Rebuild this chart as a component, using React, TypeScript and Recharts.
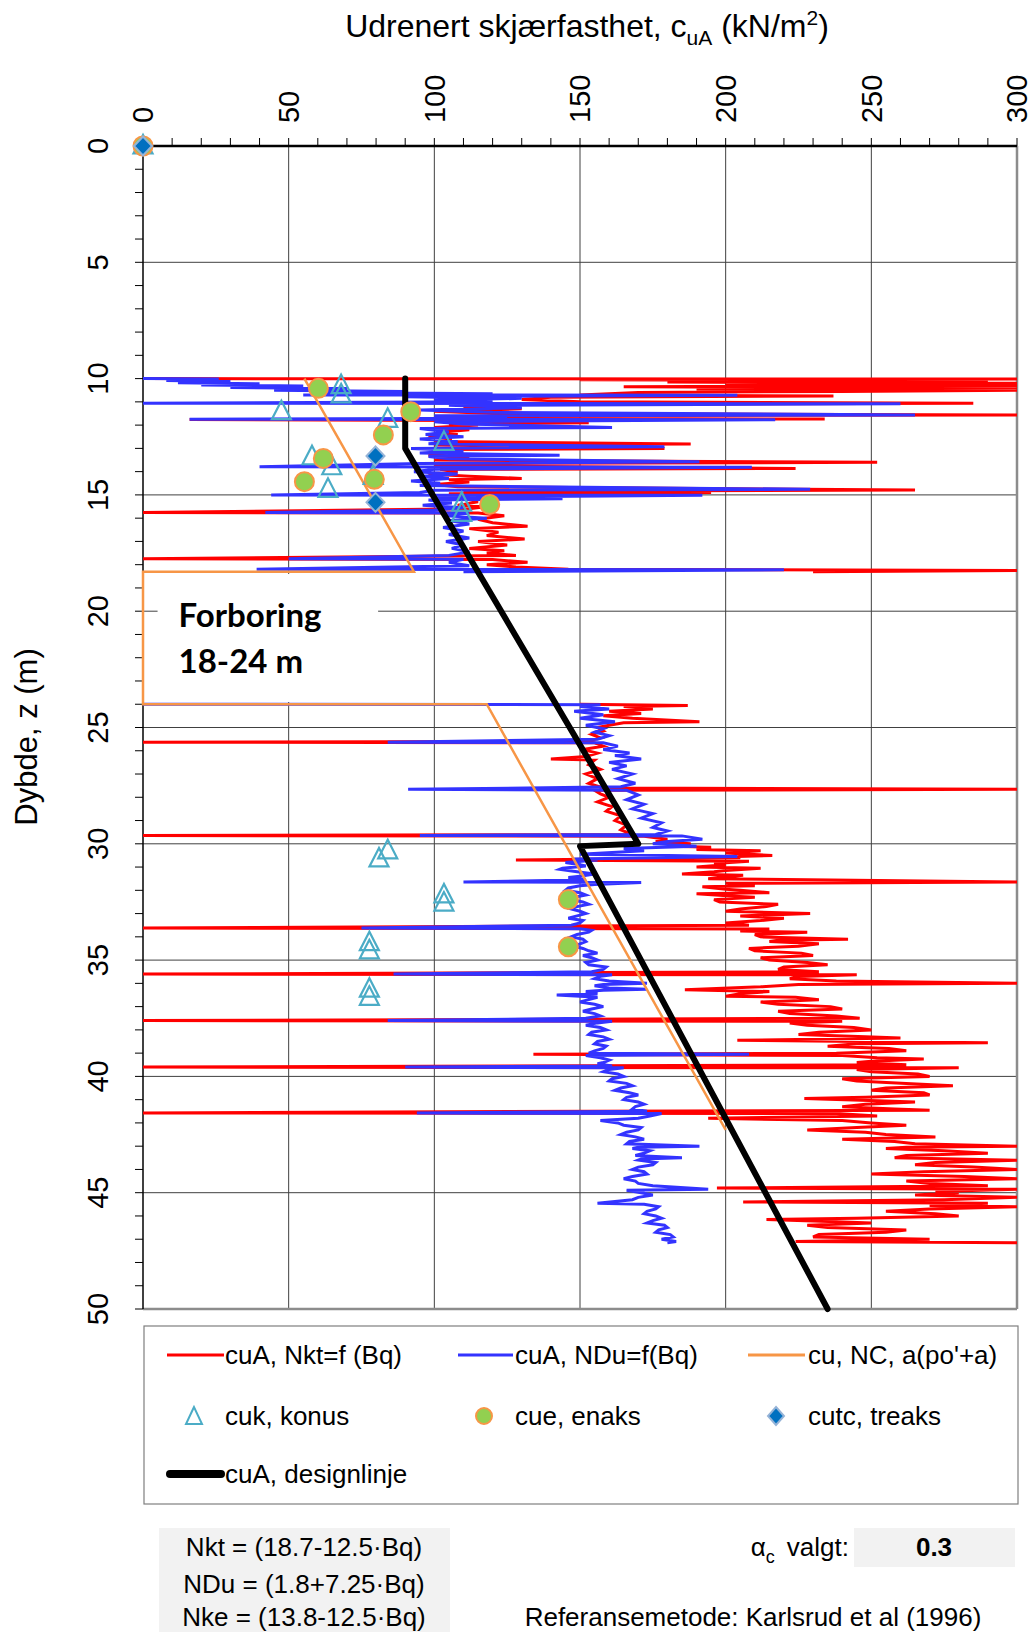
import React from 'react';
import { ScatterChart, Scatter, XAxis, YAxis, CartesianGrid, ReferenceLine, ReferenceArea } from 'recharts';

// ---------- axis ticks ----------
const xTicks = [0, 10, 20, 30, 40, 50, 60, 70, 80, 90, 100, 110, 120, 130, 140, 150, 160, 170, 180, 190, 200, 210, 220, 230, 240, 250, 260, 270, 280, 290, 300];
const xLabels = [0, 50, 100, 150, 200, 250, 300];
const yTicks = [0, 1, 2, 3, 4, 5, 6, 7, 8, 9, 10, 11, 12, 13, 14, 15, 16, 17, 18, 19, 20, 21, 22, 23, 24, 25, 26, 27, 28, 29, 30, 31, 32, 33, 34, 35, 36, 37, 38, 39, 40, 41, 42, 43, 44, 45, 46, 47, 48, 49, 50];
const yLabels = [0, 5, 10, 15, 20, 25, 30, 35, 40, 45, 50];
const xGrid = [50, 100, 150, 200, 250];
const yGrid = [5, 10, 15, 20, 25, 30, 35, 40, 45];

// ---------- series: [depth z (m), cuA (kN/m2)] ----------
const redUpper = [
  [10.0, 0], [10.02, 300], [10.05, 150], [10.1, 290], [10.15, 180], [10.2, 300], [10.25, 200], [10.3, 300], [10.35, 165], [10.4, 300],
  [10.45, 190], [10.5, 300], [10.55, 240], [10.6, 170], [10.7, 150], [10.75, 237], [10.8, 140], [10.9, 130], [11.0, 150], [11.06, 285],
  [11.1, 120], [11.2, 110], [11.3, 130], [11.4, 100], [11.5, 120], [11.56, 300], [11.6, 130], [11.7, 110], [11.74, 234], [11.76, 16],
  [11.8, 110], [11.9, 153], [11.95, 105], [12.0, 115], [12.1, 100], [12.2, 112], [12.3, 103], [12.4, 108], [12.5, 98], [12.6, 106],
  [12.7, 100], [12.81, 188], [12.85, 100], [13.0, 179], [13.05, 100], [13.15, 108], [13.3, 98], [13.4, 112], [13.5, 100], [13.6, 252],
  [13.65, 105], [13.75, 100], [13.86, 224], [13.9, 102], [14.0, 108], [14.1, 98], [14.2, 112], [14.29, 130], [14.35, 105], [14.45, 112],
  [14.55, 100], [14.65, 108], [14.79, 265], [14.85, 110], [14.9, 195], [14.95, 105], [15.05, 112], [15.15, 110], [15.3, 115], [15.45, 108],
  [15.5, 118], [15.6, 112], [15.76, 0], [15.78, 115], [15.9, 124], [16.05, 115], [16.2, 120], [16.35, 132], [16.45, 112], [16.6, 122],
  [16.75, 118], [16.9, 131], [17.0, 115], [17.15, 125], [17.3, 112], [17.4, 124], [17.5, 118], [17.6, 128], [17.75, 0], [17.78, 120],
  [17.9, 132], [18.0, 118], [18.1, 128], [18.2, 146], [18.25, 300], [18.3, 230],
];

const redLower = [
  [24.0, 150], [24.05, 187], [24.1, 165], [24.2, 175], [24.3, 160], [24.4, 171], [24.5, 158], [24.6, 168], [24.75, 191], [24.8, 165],
  [24.9, 160], [25.0, 156], [25.15, 158], [25.3, 154], [25.45, 157], [25.6, 152], [25.63, 0], [25.66, 155], [25.8, 158], [25.95, 151],
  [26.1, 156], [26.25, 152], [26.35, 140], [26.4, 155], [26.6, 153], [26.8, 157], [27.0, 152], [27.2, 156], [27.4, 153], [27.6, 158],
  [27.66, 300], [27.7, 155], [27.85, 157], [28.0, 160], [28.2, 156], [28.4, 161], [28.6, 159], [28.8, 164], [29.0, 162], [29.2, 166],
  [29.4, 164], [29.6, 168], [29.64, 0], [29.68, 172], [29.8, 180], [29.9, 176], [30.0, 188], [30.1, 182], [30.15, 195], [30.25, 190],
  [30.3, 212], [30.4, 200], [30.5, 216], [30.55, 204], [30.6, 205], [30.7, 128], [30.75, 208], [30.85, 196], [30.9, 200], [31.0, 190],
  [31.05, 212], [31.15, 200], [31.2, 196], [31.3, 185], [31.35, 206], [31.45, 198], [31.5, 194], [31.64, 300], [31.7, 200], [31.8, 210],
  [31.85, 192], [31.95, 200], [32.0, 205], [32.1, 215], [32.15, 190], [32.25, 203], [32.3, 210], [32.4, 196], [32.5, 198], [32.6, 218],
  [32.7, 214], [32.8, 205], [32.9, 200], [33.0, 229], [33.1, 205], [33.2, 220], [33.3, 212], [33.4, 200], [33.5, 208],
  [33.62, 0], [33.66, 215], [33.75, 205], [33.8, 228], [33.9, 210], [34.0, 212], [34.1, 242], [34.15, 218], [34.2, 215], [34.3, 232],
  [34.4, 225], [34.5, 208], [34.6, 210], [34.7, 226], [34.8, 230], [34.9, 212], [35.0, 215], [35.1, 228], [35.2, 235], [35.3, 220],
  [35.4, 218], [35.5, 232], [35.6, 0], [35.63, 245], [35.7, 225], [35.8, 222], [35.9, 238], [36.0, 300], [36.05, 225], [36.15, 212],
  [36.27, 186], [36.35, 215], [36.45, 205], [36.55, 200], [36.6, 224], [36.7, 232], [36.8, 212], [36.9, 218], [37.0, 236], [37.1, 240],
  [37.2, 218], [37.3, 222], [37.4, 238], [37.5, 246], [37.6, 0], [37.63, 240], [37.7, 222], [37.8, 228], [37.9, 244], [38.0, 250],
  [38.1, 232], [38.2, 225], [38.3, 248], [38.35, 260], [38.45, 204], [38.55, 290], [38.6, 245], [38.7, 235], [38.8, 256], [38.9, 262],
  [39.0, 238], [39.05, 134], [39.1, 240], [39.2, 252], [39.25, 268], [39.35, 250], [39.4, 245], [39.5, 262], [39.6, 0], [39.63, 280],
  [39.7, 245], [39.8, 250], [39.9, 266], [40.0, 270], [40.1, 240], [40.2, 245], [40.3, 262], [40.4, 278], [40.5, 255], [40.6, 250],
  [40.7, 268], [40.8, 270], [40.9, 248], [40.95, 227], [41.05, 252], [41.1, 265], [41.2, 248], [41.3, 240], [41.4, 258], [41.45, 270],
  [41.57, 0], [41.6, 238], [41.7, 252], [41.8, 194], [41.9, 240], [42.0, 250], [42.1, 262], [42.2, 245], [42.3, 228], [42.4, 248],
  [42.5, 255], [42.6, 272], [42.7, 240], [42.8, 258], [42.9, 265], [43.0, 300], [43.05, 262], [43.1, 255], [43.2, 275], [43.3, 290],
  [43.4, 262], [43.5, 258], [43.6, 300], [43.7, 272], [43.8, 265], [43.9, 285], [44.0, 300], [44.1, 268], [44.2, 250], [44.3, 282],
  [44.4, 300], [44.5, 262], [44.6, 270], [44.7, 290], [44.8, 197], [44.85, 300], [44.95, 272], [45.0, 280], [45.1, 265], [45.2, 300],
  [45.3, 275], [45.4, 206], [45.45, 290], [45.55, 270], [45.6, 300], [45.7, 270], [45.8, 255], [45.9, 272], [46.0, 280], [46.1, 245],
  [46.15, 214], [46.25, 238], [46.3, 250], [46.4, 228], [46.5, 235], [46.6, 262], [46.7, 255], [46.8, 232], [46.9, 230], [47.0, 270],
  [47.1, 224], [47.15, 300],
];

const blueUpper = [
  [10.0, 0], [10.02, 26], [10.08, 8], [10.12, 30], [10.18, 12], [10.22, 40], [10.27, 20], [10.32, 55], [10.38, 30], [10.43, 70],
  [10.5, 45], [10.55, 90], [10.6, 60], [10.65, 120], [10.7, 55], [10.72, 204], [10.78, 90], [10.85, 130], [10.92, 100], [11.0, 120],
  [11.06, 0], [11.08, 260], [11.15, 105], [11.25, 130], [11.35, 95], [11.45, 120], [11.56, 265], [11.6, 100], [11.7, 125], [11.75, 16],
  [11.77, 217], [11.85, 100], [11.95, 110], [12.1, 161], [12.15, 95], [12.3, 105], [12.4, 97], [12.5, 110], [12.6, 95], [12.7, 108],
  [12.8, 98], [12.93, 179], [13.0, 92], [13.1, 110], [13.2, 95], [13.3, 143], [13.35, 98], [13.45, 105], [13.57, 191], [13.65, 95],
  [13.79, 40], [13.81, 209], [13.9, 100], [14.0, 93], [14.1, 108], [14.2, 96], [14.3, 105], [14.4, 92], [14.5, 102], [14.6, 95],
  [14.76, 229], [14.8, 100], [14.9, 95], [15.0, 44], [15.02, 192], [15.1, 100], [15.17, 144], [15.22, 98], [15.35, 106], [15.45, 96],
  [15.55, 110], [15.65, 100], [15.76, 42], [15.78, 112], [15.9, 104], [16.0, 118], [16.1, 105], [16.25, 112], [16.4, 103], [16.55, 110],
  [16.7, 105], [16.85, 112], [17.0, 104], [17.15, 110], [17.3, 106], [17.45, 112], [17.6, 105], [17.75, 50], [17.77, 110], [17.9, 105],
  [18.05, 112], [18.2, 39], [18.22, 220], [18.3, 110],
];

const blueLower = [
  [24.0, 0], [24.02, 157], [24.1, 150], [24.2, 160], [24.3, 148], [24.45, 158], [24.6, 150], [24.75, 162], [24.9, 152], [25.05, 158],
  [25.2, 155], [25.35, 160], [25.5, 156], [25.63, 84], [25.66, 158], [25.8, 163], [25.95, 158], [26.1, 167], [26.2, 162], [26.35, 171],
  [26.5, 160], [26.65, 166], [26.8, 161], [27.0, 168], [27.2, 163], [27.4, 169], [27.55, 164], [27.66, 91], [27.7, 166], [27.9, 170],
  [28.1, 166], [28.3, 172], [28.5, 168], [28.7, 175], [28.9, 171], [29.1, 178], [29.3, 175], [29.45, 180], [29.6, 176], [29.64, 95],
  [29.66, 185], [29.8, 192], [29.9, 180], [30.0, 175], [30.1, 190], [30.2, 165], [30.3, 172], [30.45, 150], [30.55, 204], [30.65, 148],
  [30.7, 156], [30.8, 145], [30.9, 150], [30.95, 152], [31.05, 144], [31.1, 143], [31.2, 149], [31.3, 155], [31.4, 150], [31.45, 146],
  [31.55, 152], [31.64, 110], [31.66, 171], [31.75, 155], [31.8, 150], [31.9, 146], [32.0, 145], [32.1, 150], [32.2, 152], [32.3, 148],
  [32.4, 147], [32.5, 151], [32.6, 153], [32.7, 149], [32.8, 147], [32.9, 150], [33.0, 152], [33.1, 149], [33.2, 146], [33.3, 151],
  [33.4, 150], [33.5, 147], [33.62, 75], [33.65, 150], [33.72, 154], [33.8, 153], [33.9, 149], [34.0, 147], [34.1, 151], [34.2, 152],
  [34.3, 150], [34.4, 148], [34.5, 151], [34.6, 153], [34.7, 156], [34.8, 151], [34.9, 154], [35.0, 156], [35.1, 152], [35.2, 153],
  [35.3, 159], [35.4, 158], [35.5, 154], [35.6, 86], [35.63, 161], [35.7, 157], [35.8, 155], [35.9, 160], [36.0, 173], [36.05, 158],
  [36.1, 155], [36.2, 160], [36.25, 173], [36.3, 158], [36.35, 152], [36.45, 156], [36.5, 142], [36.55, 150], [36.6, 156], [36.7, 153],
  [36.8, 150], [36.9, 155], [37.0, 158], [37.1, 154], [37.2, 151], [37.3, 155], [37.4, 157], [37.5, 152], [37.6, 84], [37.63, 161],
  [37.7, 156], [37.8, 152], [37.9, 157], [38.0, 159], [38.1, 154], [38.2, 153], [38.3, 158], [38.4, 160], [38.5, 156], [38.6, 155],
  [38.7, 159], [38.8, 158], [38.9, 155], [39.0, 153], [39.05, 208], [39.1, 152], [39.2, 157], [39.3, 160], [39.4, 158], [39.45, 156],
  [39.55, 161], [39.6, 90], [39.63, 165], [39.7, 160], [39.8, 158], [39.9, 163], [40.0, 165], [40.1, 161], [40.2, 160], [40.3, 166],
  [40.4, 168], [40.5, 164], [40.6, 162], [40.7, 167], [40.8, 170], [40.9, 166], [41.0, 165], [41.1, 170], [41.2, 172], [41.3, 169],
  [41.4, 168], [41.5, 173], [41.57, 94], [41.6, 178], [41.7, 174], [41.8, 170], [41.9, 157], [42.0, 163], [42.1, 165], [42.2, 171],
  [42.3, 170], [42.4, 166], [42.5, 164], [42.6, 169], [42.7, 172], [42.8, 167], [42.9, 166], [43.0, 191], [43.05, 170], [43.1, 168],
  [43.2, 174], [43.3, 172], [43.4, 169], [43.5, 185], [43.55, 171], [43.6, 170], [43.7, 176], [43.8, 175], [43.9, 170], [44.0, 168],
  [44.1, 172], [44.2, 173], [44.3, 168], [44.4, 165], [44.5, 169], [44.6, 170], [44.7, 175], [44.85, 194], [44.9, 166], [45.0, 171],
  [45.1, 175], [45.2, 170], [45.3, 168], [45.45, 156], [45.5, 172], [45.6, 177], [45.7, 176], [45.8, 173], [45.9, 172], [46.0, 176],
  [46.1, 178], [46.2, 175], [46.3, 173], [46.4, 179], [46.5, 180], [46.6, 177], [46.7, 176], [46.8, 181], [46.9, 182], [47.0, 178],
  [47.1, 183], [47.15, 180],
];

const orangeNC = [
  [10.0, 55.4], [18.3, 93], [18.3, 0], [24.0, 0], [24.0, 118], [42.3, 200],
];

const designLine = [
  [10.0, 90], [13.0, 90], [30.0, 170], [30.1, 150], [50.0, 235],
];

const konus = [
  [0, 0], [10.3, 68], [10.7, 68], [11.42, 47.5], [11.75, 84], [12.74, 103.3], [13.36, 58], [13.79, 64.8], [14.76, 63.5], [14.2, 79],
  [15.36, 109.4], [15.79, 109.4], [30.3, 84], [30.65, 81], [32.2, 103.3], [32.55, 103.3], [34.25, 77.7], [34.6, 77.7], [36.25, 77.7], [36.6, 77.7],
];

const enaks = [
  [0, 0], [10.42, 60.2], [11.42, 91.9], [12.42, 82.5], [13.43, 61.9], [14.43, 55.4], [14.33, 79.4], [15.41, 119], [32.4, 146], [34.43, 146],
];

const treaks = [
  [0, 0], [13.33, 79.8], [15.32, 79.8],
];

const toPts = (arr: number[][]) => arr.map(([z, x]) => ({ x, z }));

// ---------- layout ----------
const FONT = '"Liberation Sans", Arial, Helvetica, sans-serif';
const PLOT_TOP = 146;

const Empty = () => <g />;

const TriShape = (p: any) => {
  const { cx, cy } = p;
  if (cx == null || cy == null) return <g />;
  return (
    <polygon
      points={`${cx},${cy - 11} ${cx - 9.5},${cy + 7.5} ${cx + 9.5},${cy + 7.5}`}
      fill="none"
      stroke="#4BACC6"
      strokeWidth={2.2}
    />
  );
};

const CircShape = (p: any) => {
  const { cx, cy } = p;
  if (cx == null || cy == null) return <g />;
  return <circle cx={cx} cy={cy} r={9.5} fill="#92D050" stroke="#F79646" strokeWidth={2} />;
};

const DiaShape = (p: any) => {
  const { cx, cy } = p;
  if (cx == null || cy == null) return <g />;
  return (
    <polygon
      points={`${cx},${cy - 9.5} ${cx + 9},${cy} ${cx},${cy + 9.5} ${cx - 9},${cy}`}
      fill="#0070C0"
      stroke="#95B3D7"
      strokeWidth={2}
    />
  );
};

const XTick = (p: any) => {
  const { x, payload } = p;
  if (!xLabels.includes(payload.value)) return <g />;
  const y = PLOT_TOP - 23;
  return (
    <text
      x={x}
      y={y}
      transform={`rotate(-90 ${x} ${y})`}
      textAnchor="start"
      dy="0.36em"
      fontSize={29}
      fontFamily={FONT}
      fill="#000"
    >
      {payload.value}
    </text>
  );
};

const YTick = (p: any) => {
  const { y, payload } = p;
  if (!yLabels.includes(payload.value)) return <g />;
  const x = 108;
  return (
    <text
      x={x}
      y={y}
      transform={`rotate(-90 ${x} ${y})`}
      textAnchor="middle"
      fontSize={29}
      fontFamily={FONT}
      fill="#000"
    >
      {payload.value}
    </text>
  );
};

const ForboringLabel = (p: any) => {
  const vb = p.viewBox || {};
  const x = (vb.x || 0) + 21;
  const y = vb.y || 0;
  return (
    <text fontFamily="Lato, 'Open Sans', sans-serif" fontWeight="bold" fontSize={33} fill="#000">
      <tspan x={x} y={y + 53}>Forboring</tspan>
      <tspan x={x} y={y + 99}>18-24 m</tspan>
    </text>
  );
};

export default function App() {
  return (
    <div style={{ position: 'absolute', left: 0, top: 0, width: 1033, height: 1632, background: '#fff', overflow: 'hidden' }}>
      <div style={{ position: 'absolute', left: 0, top: 0 }}>
        <ScatterChart width={1033} height={1345} margin={{ top: 86, right: 16, bottom: 36, left: 83 }}>
          <CartesianGrid
            stroke="#404040"
            strokeWidth={1}
            verticalValues={xGrid}
            horizontalValues={yGrid}
          />
          <XAxis
            type="number"
            dataKey="x"
            orientation="top"
            domain={[0, 300]}
            ticks={xTicks}
            interval={0}
            height={60}
            tickSize={8}
            tickLine={{ stroke: '#000', strokeWidth: 1 }}
            axisLine={{ stroke: '#000', strokeWidth: 2.5 }}
            tick={<XTick />}
          />
          <YAxis
            type="number"
            dataKey="z"
            domain={[0, 50]}
            reversed
            ticks={yTicks}
            interval={0}
            width={60}
            tickSize={8}
            tickLine={{ stroke: '#000', strokeWidth: 1 }}
            axisLine={{ stroke: '#000', strokeWidth: 1.5 }}
            tick={<YTick />}
          />
          <ReferenceLine x={300} stroke="#8c8c8c" strokeWidth={2.5} />
          <ReferenceLine y={50} stroke="#8c8c8c" strokeWidth={2.5} />
          <ReferenceArea
            x1={5}
            x2={80.7}
            y1={18.4}
            y2={23.9}
            fill="#ffffff"
            fillOpacity={1}
            stroke="none"
            label={<ForboringLabel />}
          />
          <Scatter data={toPts(redUpper)} line={{ stroke: '#FF0000', strokeWidth: 3 }} shape={<Empty />} isAnimationActive={false} legendType="none" />
          <Scatter data={toPts(redLower)} line={{ stroke: '#FF0000', strokeWidth: 3 }} shape={<Empty />} isAnimationActive={false} legendType="none" />
          <Scatter data={toPts(blueUpper)} line={{ stroke: '#3333FF', strokeWidth: 3 }} shape={<Empty />} isAnimationActive={false} legendType="none" />
          <Scatter data={toPts(blueLower)} line={{ stroke: '#3333FF', strokeWidth: 3 }} shape={<Empty />} isAnimationActive={false} legendType="none" />
          <Scatter data={toPts(orangeNC)} line={{ stroke: '#F79646', strokeWidth: 2.5 }} shape={<Empty />} isAnimationActive={false} legendType="none" />
          <Scatter data={toPts(designLine)} line={{ stroke: '#000000', strokeWidth: 6, strokeLinecap: 'round', strokeLinejoin: 'round' }} shape={<Empty />} isAnimationActive={false} legendType="none" />
          <Scatter data={toPts(konus)} shape={<TriShape />} isAnimationActive={false} legendType="none" />
          <Scatter data={toPts(enaks)} shape={<CircShape />} isAnimationActive={false} legendType="none" />
          <Scatter data={toPts(treaks)} shape={<DiaShape />} isAnimationActive={false} legendType="none" />
        </ScatterChart>
      </div>

      <svg width={1033} height={1632} style={{ position: 'absolute', left: 0, top: 0, pointerEvents: 'none' }} fontFamily={FONT}>
        {/* title */}
        <text x={587} y={37} textAnchor="middle" fontSize={32} fill="#000">
          Udrenert skjærfasthet, c
          <tspan dy={8} fontSize={21}>uA</tspan>
          <tspan dy={-8}> (kN/m</tspan>
          <tspan dy={-12} fontSize={21}>2</tspan>
          <tspan dy={12}>)</tspan>
        </text>
        {/* y axis title */}
        <text x={26} y={737} transform="rotate(-90 26 737)" textAnchor="middle" dy="0.35em" fontSize={31} fill="#000">
          Dybde, z (m)
        </text>

        {/* legend */}
        <rect x={144} y={1326} width={874} height={178} fill="#fff" stroke="#7f7f7f" strokeWidth={1.2} />
        <line x1={167} x2={224} y1={1355} y2={1355} stroke="#FF0000" strokeWidth={3} />
        <text x={225} y={1364} fontSize={26} fill="#000">cuA, Nkt=f (Bq)</text>
        <line x1={458} x2={513} y1={1355} y2={1355} stroke="#3333FF" strokeWidth={3} />
        <text x={515} y={1364} fontSize={26} fill="#000">cuA, NDu=f(Bq)</text>
        <line x1={748} x2={805} y1={1355} y2={1355} stroke="#F79646" strokeWidth={3} />
        <text x={808} y={1364} fontSize={26} fill="#000">cu, NC, a(po'+a)</text>

        <polygon points="194,1407 186,1424 202,1424" fill="none" stroke="#4BACC6" strokeWidth={2} />
        <text x={225} y={1425} fontSize={26} fill="#000">cuk, konus</text>
        <circle cx={484} cy={1416} r={8} fill="#92D050" stroke="#F79646" strokeWidth={2} />
        <text x={515} y={1425} fontSize={26} fill="#000">cue, enaks</text>
        <polygon points="776,1407 784,1416 776,1425 768,1416" fill="#0070C0" stroke="#95B3D7" strokeWidth={2} />
        <text x={808} y={1425} fontSize={26} fill="#000">cutc, treaks</text>

        <line x1={170} x2={221} y1={1474} y2={1474} stroke="#000" strokeWidth={8} strokeLinecap="round" />
        <text x={225} y={1483} fontSize={26} fill="#000">cuA, designlinje</text>

        {/* bottom info */}
        <rect x={159} y={1528} width={291} height={104} fill="#F2F2F2" />
        <text x={304} y={1556} textAnchor="middle" fontSize={26} fill="#000">Nkt = (18.7-12.5·Bq)</text>
        <text x={304} y={1593} textAnchor="middle" fontSize={26} fill="#000">NDu = (1.8+7.25·Bq)</text>
        <text x={304} y={1626} textAnchor="middle" fontSize={26} fill="#000">Nke = (13.8-12.5·Bq)</text>

        <text x={849} y={1556} textAnchor="end" fontSize={26} fill="#000">
          α<tspan dy={7} fontSize={18}>c</tspan>
          <tspan dy={-7} dx={12}>valgt:</tspan>
        </text>
        <rect x={854} y={1528} width={161} height={39} fill="#F2F2F2" />
        <text x={934} y={1556} textAnchor="middle" fontSize={26} fontWeight="bold" fill="#000">0.3</text>

        <text x={753} y={1626} textAnchor="middle" fontSize={26} fill="#000">Referansemetode: Karlsrud et al (1996)</text>
      </svg>
    </div>
  );
}
